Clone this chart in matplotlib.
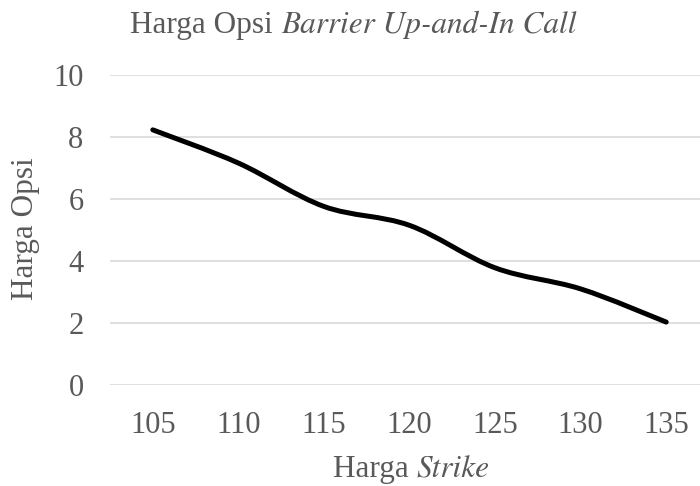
import matplotlib
matplotlib.use("Agg")
import matplotlib.pyplot as plt
from matplotlib.path import Path
from matplotlib.patches import PathPatch

# data
strike = ["105", "110", "115", "120", "125", "130", "135"]
harga_opsi = [8.23, 7.16, 5.76, 5.15, 3.78, 3.10, 2.03]
y_ticks = [0, 2, 4, 6, 8, 10]

grey = "#595959"
plt.rcParams["font.family"] = ["Liberation Serif", "DejaVu Serif"]
ITALIC = ["STIXGeneral", "Liberation Serif"]


def smooth_path(xs, ys):
    # excel-like smoothed line: cubic bezier with catmull-rom control points
    n = len(xs)
    verts = [(xs[0], ys[0])]
    codes = [Path.MOVETO]
    for i in range(n - 1):
        x0, y0 = (xs[i - 1], ys[i - 1]) if i > 0 else (xs[i], ys[i])
        x1, y1 = xs[i], ys[i]
        x2, y2 = xs[i + 1], ys[i + 1]
        x3, y3 = (xs[i + 2], ys[i + 2]) if i + 2 < n else (x2, y2)
        c1 = (x1 + (x2 - x0) / 6, y1 + (y2 - y0) / 6)
        c2 = (x2 - (x3 - x1) / 6, y2 - (y3 - y1) / 6)
        verts += [c1, c2, (x2, y2)]
        codes += [Path.CURVE4] * 3
    return Path(verts, codes)


def mixed_text(fig, x, y, parts, size):
    # draw text pieces (regular / italic) next to each other, centred on x
    texts = []
    for s, italic in parts:
        kw = dict(family=ITALIC, style="italic") if italic else {}
        texts.append(fig.text(0, y, s, fontsize=size, color=grey,
                              va="baseline", ha="left", **kw))
    r = fig.canvas.get_renderer()
    widths = [t.get_window_extent(r).width / fig.bbox.width for t in texts]
    start = x - sum(widths) / 2
    for t, w in zip(texts, widths):
        t.set_x(start)
        start += w
    return texts


fig = plt.figure(figsize=(7, 4.86), dpi=100)
ax = fig.add_axes([110 / 700, 1 - 385 / 486, 599 / 700, 310 / 486])

xs = list(range(len(strike)))
patch = PathPatch(smooth_path(xs, harga_opsi), facecolor="none", edgecolor="black",
                  lw=3.6, capstyle="round", joinstyle="round", zorder=3)
ax.add_patch(patch)

ax.set_xlim(-0.5, len(strike) - 0.5)
ax.set_ylim(0, 10)
ax.set_xticks(xs)
ax.set_xticklabels(strike)
ax.set_yticks(y_ticks)
ax.grid(axis="y", color="#d9d9d9", lw=1.2)
ax.set_axisbelow(True)
for sp in ax.spines.values():
    sp.set_visible(False)
ax.tick_params(length=0, labelsize=22, labelcolor=grey)
ax.tick_params(axis="x", pad=19)
ax.tick_params(axis="y", pad=19)

fig.text(26 / 700, 1 - 229 / 486, "Harga Opsi", fontsize=22.5, color=grey,
         rotation=90, ha="center", va="center")
mixed_text(fig, 353.5 / 700, 1 - 33 / 486,
           [("Harga Opsi ", False), ("Barrier Up-and-In Call", True)], 22.5)
mixed_text(fig, 411 / 700, 1 - 477 / 486, [("Harga ", False), ("Strike", True)], 22.5)

fig.savefig("out.png", dpi=100)
